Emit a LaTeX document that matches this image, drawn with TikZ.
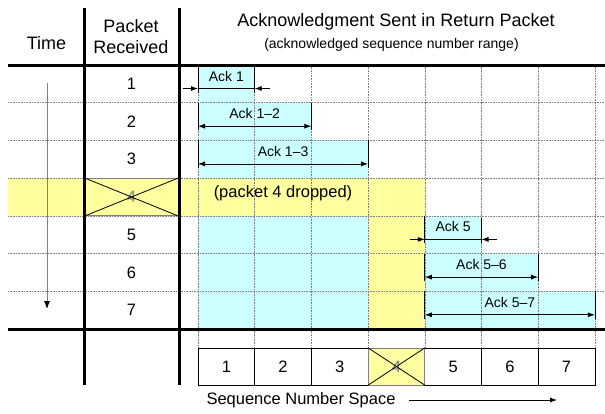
\documentclass[tikz,border=0pt]{standalone}
\usepackage{fontspec}
\setmainfont{Liberation Sans}
\usetikzlibrary{arrows.meta}
\usetikzlibrary{positioning}
\definecolor{ackcyan}{RGB}{204,255,255}
\definecolor{dropyellow}{RGB}{255,255,160}

\begin{document}
\begin{tikzpicture}[x=1pt, y=-1pt, heavy/.style={line width=3pt}, gridline/.style={gray, densely dotted, line width=0.6pt}, tip/.style={line width=0.8pt, -{Latex[length=7pt,width=5pt]}}, ackrange/.style={line width=0.8pt, {Latex[length=7pt,width=5pt]}-{Latex[length=7pt,width=5pt]}}, bound/.style={line width=0.8pt}, acklabel/.style={font=\fontsize{14}{16}\selectfont}, num/.style={font=\fontsize{16.5}{19}\selectfont}, head/.style={font=\fontsize{18}{21}\selectfont, align=center}, seqbox/.style={draw, line width=0.8pt, minimum width=56.7pt, minimum height=37pt, inner sep=0pt, num}, lostbox/.style={draw=gray, fill=dropyellow, line width=0.8pt, inner sep=0pt, text=gray, num}]
\useasboundingbox (0,0) rectangle (605,413);
% shaded areas
\fill [ackcyan] (198,65) rectangle (254.7,102.7);
\fill [ackcyan] (198,102.7) rectangle (311.4,140.4);
\fill [ackcyan] (198,140.4) rectangle (368.1,178.1);
\fill [dropyellow] (8,178.1) rectangle (424.8,215.9);
\fill [ackcyan] (198,215.9) rectangle (368.1,329);
\fill [dropyellow] (368.1,215.9) rectangle (424.8,329);
\fill [ackcyan] (424.8,215.9) rectangle (481.5,253.6);
\fill [ackcyan] (424.8,253.6) rectangle (538.2,291.3);
\fill [ackcyan] (424.8,291.3) rectangle (594.9,329);
% grid
\foreach \y in {102.7,140.4,178.1,215.9,253.6,291.3}
  \draw [gridline] (8,\y) -- (605,\y);
\foreach \x in {198,254.7,311.4,368.1,424.8,481.5,538.2,594.9}
  \draw [gridline] (\x,65) -- (\x,348);
% headers
\node [head] (time) at (46.5,43) {Time};
\node [head] (received) at (131,37) {Packet\\Received};
\node [head] (acktitle) at (396,22) {Acknowledgment Sent in Return Packet};
\node [acklabel] (acksub) at (391.5,45) {(acknowledged sequence number range)};
% time arrow
\coordinate (tstart) at (47,83);
\coordinate (tend) at (47,309);
\draw [gray, line width=0.8pt, -{Latex[black,length=8pt,width=6pt]}] (tstart) -- (tend);
% packets received
\foreach \n/\y in {1/83.9,2/121.6,3/159.3,5/234.7,6/272.4,7/310.1}
  \node [num] (r\n) at (131.5,\y) {\n};
\node [lostbox, minimum width=94pt, minimum height=37.7pt] (r4) at (131.5,197) {4};
\draw [bound] (r4.north west) -- (r4.south east);
\draw [bound] (r4.south west) -- (r4.north east);
\node [num] (dropped) at (283,193) {(packet 4 dropped)};
% main lines
\draw [heavy] (8,65) -- (605,65);
\draw [heavy] (8,329) -- (605,329);
\draw [heavy] (84,8) -- (84,385);
\draw [heavy] (179,8) -- (179,385);
% single acks
\foreach \l/\r/\t/\txt in {198/254.7/65/Ack 1,424.8/481.5/215.9/Ack 5} {
  \node [acklabel] (ack) at ({(\l+\r)/2},\t+11) {\txt};
  \coordinate (al) at (\l,\t+23.5);
  \coordinate (ar) at (\r,\t+23.5);
  \draw [bound] (\l,\t) -- (\l,\t+27.5);
  \draw [bound] (\r,\t+2) -- (\r,\t+27.5);
  \draw [tip] ([xshift=-15pt]al) -- (al);
  \draw [tip] ([xshift=15pt]ar) -- (ar);
  \draw [bound] (al) -- (ar);
}
% range acks
\foreach \l/\r/\t/\txt in {198/311.4/102.7/Ack 1--2,198/368.1/140.4/Ack 1--3,424.8/538.2/253.6/Ack 5--6,424.8/594.9/291.3/Ack 5--7} {
  \node [acklabel] (ack) at ({(\l+\r)/2},\t+11) {\txt};
  \coordinate (al) at (\l,\t+23.5);
  \coordinate (ar) at (\r,\t+23.5);
  \draw [bound] (\l,\t) -- (\l,\t+27.5);
  \draw [bound] (\r,\t) -- (\r,\t+27.5);
  \draw [ackrange] (al) -- (ar);
}
% sequence number space
\foreach \n in {1,2,3,5,6,7}
  \node [seqbox] (s\n) at ({198+(\n-0.5)*56.7},366.5) {\n};
\node [lostbox, minimum width=56.7pt, minimum height=37pt] (s4) at ({198+3.5*56.7},366.5) {4};
\draw [bound] (s4.north west) -- (s4.south east);
\draw [bound] (s4.south west) -- (s4.north east);
\node [num] (seqspace) at (301,400) {Sequence Number Space};
\coordinate (seqend) at (557,400);
\draw [tip] ([xshift=10pt]seqspace.east) -- (seqend);
\end{tikzpicture}
\end{document}
